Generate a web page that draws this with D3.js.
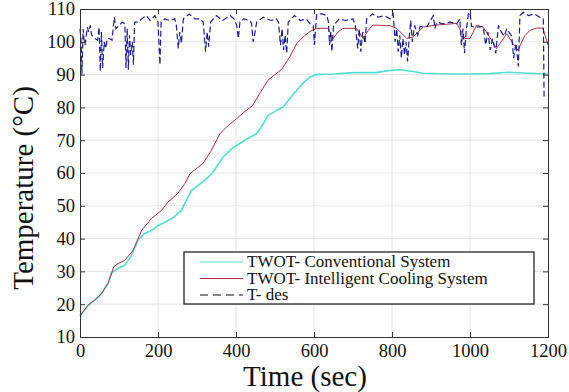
<!DOCTYPE html>
<html>
<head>
    <script src="https://d3js.org/d3.v7.min.js"></script>
    <style>
        svg text { font-family: 'Liberation Serif', 'Times New Roman', Times, Tinos, serif !important; }
    </style>
</head>
<body style="margin:0">
<svg width="569" height="392"></svg>

<script>
    // ticks
    const xTicks = [0, 200, 400, 600, 800, 1000, 1200];
    const yTicks = [10, 20, 30, 40, 50, 60, 70, 80, 90, 100, 110];

    // TWOT - conventional system (cyan)
    const convTime = [0, 20, 40, 55, 72, 81, 95, 115, 130, 149, 165, 184, 200, 218, 240, 260, 272, 286, 315, 340,
        367, 390, 410, 430, 453, 470, 482, 500, 521, 540, 556, 575, 590, 605, 650, 700, 760, 790, 820, 850,
        880, 950, 1000, 1050, 1100, 1150, 1200];
    const convTemp = [16.5, 19.6, 21.5, 23.2, 26.4, 29.5, 30.8, 31.9, 34.5, 39.5, 41.5, 42.5, 44, 45, 46.5, 48.6, 51.5, 54.7, 57.3, 60,
        64.9, 67.5, 69, 70.5, 72, 75, 77.6, 78.8, 80.1, 83, 85.2, 87.8, 89.3, 90, 90.2, 90.6, 90.6, 91.2, 91.5, 91,
        90.4, 90.2, 90.2, 90.3, 90.7, 90.4, 90.2];

    // TWOT - intelligent cooling system (red)
    const intTime = [0, 20, 40, 55, 72, 87, 100, 115, 136, 158, 184, 209, 226, 251, 270, 282, 315, 335, 359, 380,
        402, 420, 443, 462, 482, 500, 517, 538, 556, 577, 595, 607, 636, 649, 660, 674, 709, 726, 740, 751,
        795, 812, 838, 854, 880, 914, 966, 987, 1000, 1017, 1033, 1050, 1068, 1094, 1110, 1123, 1140, 1154, 1171, 1187, 1200];
    const intTemp = [16.5, 19.6, 21.5, 23.2, 26.4, 31.5, 32.5, 33.4, 36.4, 42.5, 46.2, 48.6, 51.2, 53.8, 57, 59.8, 62.9, 66.5, 72, 74.5,
        76.6, 78.5, 80.6, 84.5, 88.3, 90, 91.6, 95.4, 99.5, 102, 103.5, 104.1, 104.1, 101, 102.8, 104.1, 104.1, 101, 103.6, 105.1,
        104.9, 104.1, 101, 101.5, 104.5, 105.1, 105.6, 101, 101, 105.1, 104.5, 101.5, 97.9, 102.5, 99.5, 97.4, 101.8, 103.5, 104.2, 104.2, 99];

    // T-des (dashed navy)
    const desTime = [0, 3, 5, 8, 10, 13, 16, 19, 22, 26, 30, 38, 45, 49, 52, 55, 58, 62, 66, 70,
        76, 82, 88, 92, 100, 108, 115, 118, 121, 124, 127, 130, 134, 137, 140, 150, 158, 170, 180, 192,
        200, 205, 208, 218, 230, 243, 247, 252, 256, 260, 265, 280, 295, 308, 316, 322, 326, 330, 335, 350,
        365, 385, 395, 402, 406, 410, 420, 436, 440, 444, 449, 453, 470, 490, 504, 509, 514, 518, 522, 526,
        530, 534, 550, 565, 580, 590, 598, 601, 604, 607, 620, 633, 637, 640, 643, 646, 650, 665, 680, 700,
        706, 712, 716, 720, 725, 731, 735, 750, 765, 780, 795, 803, 808, 812, 816, 820, 824, 828, 832, 836,
        840, 844, 848, 852, 858, 866, 872, 890, 906, 910, 915, 930, 950, 966, 974, 978, 982, 986, 990, 996,
        1000, 1004, 1020, 1034, 1040, 1046, 1052, 1058, 1066, 1073, 1080, 1088, 1094, 1107, 1112, 1118, 1124, 1128, 1137, 1150,
        1165, 1179, 1188, 1190];
    const desTemp = [104, 100, 90, 104, 101, 99, 102, 104.5, 103, 105, 102, 101, 100.5, 104.5, 91, 103, 92, 100, 98, 101,
        101, 100.5, 107.5, 104, 105, 106, 105.5, 92, 104, 91.5, 102, 96, 100, 93, 106, 106, 107, 108, 106.5, 108,
        106, 93, 106, 107, 106.5, 107, 105, 98, 103, 99.5, 107, 108.5, 107, 107, 106, 97, 103, 98.5, 106, 108,
        106.5, 108, 107, 105, 101, 106, 107, 106.5, 105.5, 100, 103, 106, 107.5, 106.5, 107, 106, 99, 104, 97.5, 102,
        96.5, 106, 108, 106.5, 107, 105.5, 105, 99, 104, 108.5, 108.5, 108, 106, 99, 103, 97, 105, 107, 106.5, 107,
        105, 98, 104, 97, 103, 99.5, 107, 108.5, 107.5, 108, 107, 108.5, 100, 104, 97, 102, 95, 101, 96, 100,
        94, 101, 106.5, 100, 105, 102, 104.7, 104.7, 108, 104, 106, 105.5, 106, 105.5, 107, 99, 104, 96.5, 103, 108.5,
        109, 104.7, 104.5, 104.7, 99, 103, 97.5, 101, 96.5, 105, 103, 101.7, 104, 101.7, 95, 99.5, 92.5, 108, 109, 108,
        108.5, 107.5, 107, 83];

    const legendLabels = ["TWOT- Conventional System", "TWOT- Intelligent Cooling System", "T- des"];
    const colConv = "#4fe0cf", colInt = "#b03040", colDes = "#1c1c96";
    const fontSerif = "'Times New Roman', 'Liberation Serif', Times, serif";

    const svg = d3.select("svg");
    const margin = {left: 80, right: 21, top: 9, bottom: 55};
    const W = 569, H = 392;
    const x = d3.scaleLinear().domain([0, 1200]).range([margin.left, W - margin.right]);
    const y = d3.scaleLinear().domain([10, 110]).range([H - margin.bottom, margin.top]);

    // grid
    const grid = svg.append("g").attr("stroke", "#e4e4e4").attr("stroke-width", 1);
    xTicks.slice(1, -1).forEach(function (t) {
        grid.append("line").attr("x1", x(t)).attr("x2", x(t)).attr("y1", y(10)).attr("y2", y(110));
    });
    yTicks.slice(1, -1).forEach(function (v) {
        grid.append("line").attr("x1", x(0)).attr("x2", x(1200)).attr("y1", y(v)).attr("y2", y(v));
    });

    function zip(ts, vs) { return ts.map(function (t, i) { return [t, vs[i]]; }); }
    const line = d3.line().x(d => x(d[0])).y(d => y(d[1]));

    svg.append("path").datum(zip(convTime, convTemp)).attr("d", line)
        .attr("fill", "none").attr("stroke", colConv).attr("stroke-width", 1.6);
    svg.append("path").datum(zip(intTime, intTemp)).attr("d", line)
        .attr("fill", "none").attr("stroke", colInt).attr("stroke-width", 1);
    svg.append("path").datum(zip(desTime, desTemp)).attr("d", line)
        .attr("fill", "none").attr("stroke", colDes).attr("stroke-width", 1.2)
        .attr("stroke-dasharray", "6,3");

    // axes (box with inward ticks)
    const ax = svg.append("g");
    const xAxis = d3.axisBottom(x).tickValues(xTicks).tickSize(-5).tickPadding(7).tickFormat(d3.format("d"));
    const yAxis = d3.axisLeft(y).tickValues(yTicks).tickSize(-5).tickPadding(5);
    ax.append("g").attr("transform", "translate(0," + y(10) + ")").call(xAxis);
    ax.append("g").attr("transform", "translate(" + x(0) + ",0)").call(yAxis);
    ax.append("g").attr("transform", "translate(0," + y(110) + ")")
        .call(d3.axisTop(x).tickValues(xTicks).tickSize(-5).tickFormat(""));
    ax.append("g").attr("transform", "translate(" + x(1200) + ",0)")
        .call(d3.axisRight(y).tickValues(yTicks).tickSize(-5).tickFormat(""));
    ax.selectAll("g").attr("font-family", fontSerif);
    ax.selectAll(".domain").attr("stroke", "#333");
    ax.selectAll(".tick line").attr("stroke", "#333");
    ax.selectAll(".tick text").attr("fill", "#111").style("font-size", "18.5px");

    // axis titles
    svg.append("text").attr("x", (x(0) + x(1200)) / 2 - 9).attr("y", 386)
        .attr("text-anchor", "middle").attr("fill", "#111")
        .style("font-size", "29px").text("Time (sec)");
    svg.append("text").attr("transform", "translate(33,188) rotate(-90)")
        .attr("text-anchor", "middle").attr("fill", "#111")
        .style("font-size", "29px").text("Temperature (\u00B0C)");

    // legend
    const lg = svg.append("g");
    lg.append("rect").attr("x", 184).attr("y", 252).attr("width", 350).attr("height", 52)
        .attr("fill", "#fff").attr("stroke", "#111").attr("stroke-width", 1.2);
    const lgCols = [colConv, colInt, "#111"];
    legendLabels.forEach(function (lab, i) {
        const yy = 262 + i * 16.5;
        lg.append("line").attr("x1", 200).attr("x2", 243).attr("y1", yy).attr("y2", yy)
            .attr("stroke", lgCols[i]).attr("stroke-width", 1.2)
            .attr("stroke-dasharray", i === 2 ? "8,5" : null);
        lg.append("text").attr("x", 247).attr("y", yy + 5).attr("fill", "#111")
            .style("font-size", "17px").text(lab);
    });

    svg.selectAll("text").style("font-family", fontSerif);
</script>
</body>
</html>
